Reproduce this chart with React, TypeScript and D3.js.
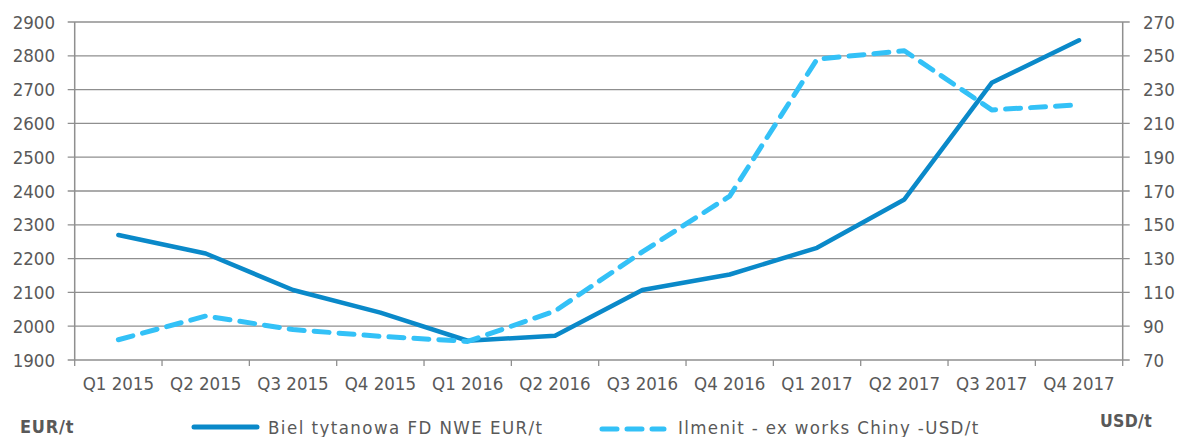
import React from "react";
import * as d3 from "d3";

const categories = ["Q1 2015","Q2 2015","Q3 2015","Q4 2015","Q1 2016","Q2 2016","Q3 2016","Q4 2016","Q1 2017","Q2 2017","Q3 2017","Q4 2017"];
const bielEUR = [2270, 2215, 2107, 2040, 1957, 1972, 2107, 2153, 2232, 2375, 2720, 2846];
const ilmenitUSD = [82, 96, 88, 84, 81, 99, 134, 167, 248, 253, 218, 221];
const leftTicks = [1900, 2000, 2100, 2200, 2300, 2400, 2500, 2600, 2700, 2800, 2900];
const rightTicks = [70, 90, 110, 130, 150, 170, 190, 210, 230, 250, 270];
const seriesNames = ["Biel tytanowa FD NWE EUR/t", "Ilmenit - ex works Chiny -USD/t"];
const unitLeft = "EUR/t";
const unitRight = "USD/t";

const W = 1178, H = 437;
const L = 74.7, R = 1122.7, T = 22, B = 360;
const FONT = "'DejaVu Sans Condensed', 'DejaVu Sans', sans-serif";
const TXT = "#595959";
const GRID = "#8f8f8f";

export default function App() {
  const x = d3.scaleBand<string>().domain(categories).range([L, R]);
  const yL = d3.scaleLinear().domain([1900, 2900]).range([B, T]);
  const yR = d3.scaleLinear().domain([70, 270]).range([B, T]);
  const cx = (c: string) => (x(c) as number) + x.bandwidth() / 2;
  const lineL = d3.line<number>().x((_, i) => cx(categories[i])).y(d => yL(d)).curve(d3.curveLinear);
  const lineR = d3.line<number>().x((_, i) => cx(categories[i])).y(d => yR(d)).curve(d3.curveLinear);
  const bounds = categories.map(c => x(c) as number).concat([R]);

  return (
    <svg width={W} height={H} style={{ position: "absolute", left: 0, top: 0, display: "block" }} fontFamily={FONT}>
      <rect width={W} height={H} fill="#fff" />
      {leftTicks.map(t => (
        <g key={"g" + t}>
          <line x1={L - 7} x2={R + 7} y1={yL(t)} y2={yL(t)} stroke={GRID} strokeWidth={1.3} />
          <text x={55} y={yL(t)} dy="0.36em" textAnchor="end" fontSize={18.5} fill={TXT}>{t}</text>
        </g>
      ))}
      {rightTicks.map(t => (
        <text key={"r" + t} x={1143} y={yR(t)} dy="0.36em" textAnchor="start" fontSize={18.5} fill={TXT}>{t}</text>
      ))}
      <line x1={L} x2={L} y1={T} y2={B} stroke={GRID} strokeWidth={1.5} />
      <line x1={R} x2={R} y1={T} y2={B} stroke={GRID} strokeWidth={1.5} />
      {bounds.map((b, i) => (
        <line key={"t" + i} x1={b} x2={b} y1={B} y2={B + 6} stroke={GRID} strokeWidth={1.3} />
      ))}
      {categories.map(c => (
        <text key={c} x={cx(c)} y={390} textAnchor="middle" fontSize={18.5} fill={TXT}>{c}</text>
      ))}
      <path d={lineL(bielEUR) || ""} fill="none" stroke="#0a89c9" strokeWidth={4.5} strokeLinejoin="round" strokeLinecap="round" />
      <path d={lineR(ilmenitUSD) || ""} fill="none" stroke="#33c1f7" strokeWidth={5} strokeLinejoin="round" strokeLinecap="round" strokeDasharray="15 10" />
      <text x={20} y={433} fontSize={18} fontWeight="bold" fill={TXT} letterSpacing={0.8}>{unitLeft}</text>
      <text x={1100} y={427} fontSize={17.5} fontWeight="bold" fill={TXT} letterSpacing={0.3}>{unitRight}</text>
      <line x1={194} x2={257} y1={427} y2={427} stroke="#0a89c9" strokeWidth={5} strokeLinecap="round" />
      <text x={268} y={434} fontSize={18.5} fill={TXT} letterSpacing={1.45}>{seriesNames[0]}</text>
      <line x1={602} x2={664} y1={429} y2={429} stroke="#33c1f7" strokeWidth={5} strokeLinecap="round" strokeDasharray="15 10" />
      <text x={678} y={434} fontSize={18.5} fill={TXT} letterSpacing={1.35}>{seriesNames[1]}</text>
    </svg>
  );
}
